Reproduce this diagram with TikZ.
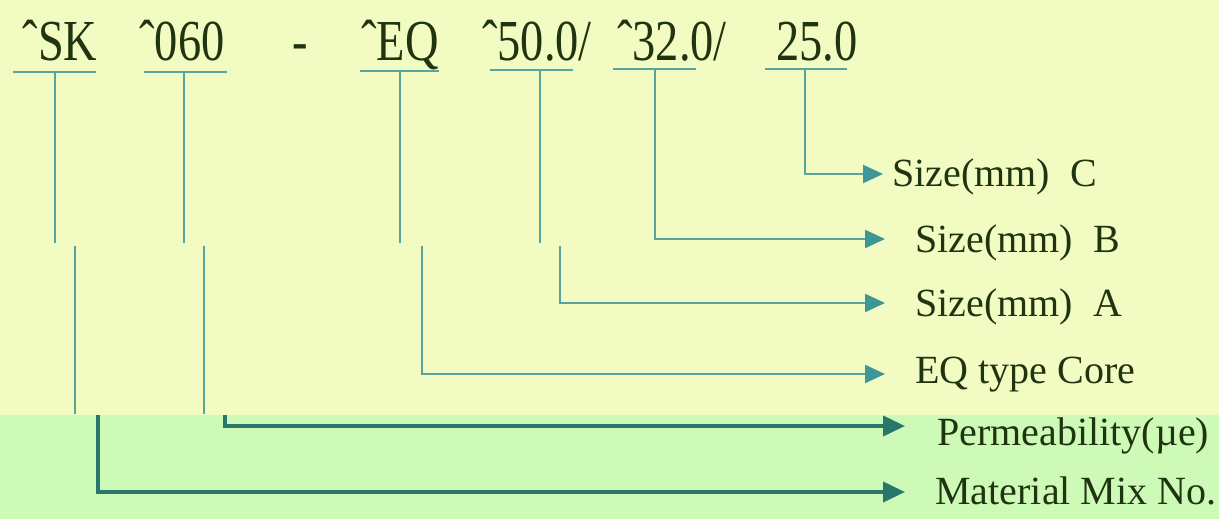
\documentclass[tikz,border=0pt]{standalone}
\usepackage{fontspec}
\setmainfont{Liberation Serif}
\newfontfamily\codefont[FakeStretch=0.8]{Liberation Serif}
\usetikzlibrary{arrows.meta}
\definecolor{bgyellow}{RGB}{242,252,194}
\definecolor{bggreen}{RGB}{205,250,183}
\definecolor{stemteal}{RGB}{88,165,158}
\definecolor{arrowteal}{RGB}{62,150,150}
\definecolor{darkteal}{RGB}{40,118,108}
\definecolor{inkgreen}{RGB}{32,52,16}
\begin{document}
\begin{tikzpicture}[x=0.5pt,y=-0.5pt,
    code/.style={anchor=base,inner sep=0pt,text=inkgreen,font=\codefont\fontsize{29}{29}\selectfont},
    lbl/.style={anchor=west,inner ysep=0pt,inner xsep=15pt,text depth=0pt,text=inkgreen,font=\fontsize{20}{20}\selectfont},
    bar/.style={stemteal,line width=1.1pt},
    pointer/.style={bar,-{Triangle[length=10pt,width=9pt,color=arrowteal]}},
    mainpointer/.style={darkteal,line width=1.9pt,-{Triangle[length=11pt,width=10pt]}}]
  \useasboundingbox (0,0) rectangle (1219,519);
  \fill[bgyellow] (0,0) rectangle (1219,415);
  \fill[bggreen] (0,415) rectangle (1219,519);

  \draw (60,61) node[code] (mix) {ˆSK};
  \draw (182,61) node[code] (perm) {ˆ060};
  \draw (300,61) node[code] (dash) {-};
  \draw (400,61) node[code] (type) {ˆEQ};
  \draw (537,61) node[code] (dima) {ˆ50.0/};
  \draw (672,61) node[code] (dimb) {ˆ32.0/};
  \draw (817,61) node[code] (dimc) {25.0};

  \draw (905,492) node[lbl,text height=1.2em] (mixL) {Material Mix No.};
  \draw (905,426) node[lbl,inner xsep=16pt,text height=1.9em] (permL) {Permeability(µe)};
  \draw (885,374) node[lbl,text height=0.9em] (typeL) {EQ type Core};
  \draw (885,303) node[lbl,text height=1.3em] (dimaL) {Size(mm)\ \ A};
  \draw (885,239) node[lbl,text height=1.3em] (dimbL) {Size(mm)\ \ B};
  \draw (883,174) node[lbl,inner xsep=4.5pt,text height=1.2em] (dimcL) {Size(mm)\ \ C};

  \coordinate (umix) at (55,72);
  \coordinate (uperm) at (184,72);
  \coordinate (utype) at (400,71);
  \coordinate (udima) at (540,70);
  \coordinate (udimb) at (655,69);
  \coordinate (udimc) at (805,69);

  \draw[bar] (13,72) -- (96,72);
  \draw[bar] (144,72) -- (227,72);
  \draw[bar] (360,71) -- (439,71);
  \draw[bar] (490,70) -- (573,70);
  \draw[bar] (613,69) -- (696,69);
  \draw[bar] (765,69) -- (847,69);

  \draw[bar] (umix) -- (55,243);
  \draw[bar] (75,246) -- (75,414);
  \draw[mainpointer] (98,415) |- (mixL.west);
  \draw[bar] (uperm) -- (184,243);
  \draw[bar] (204,246) -- (204,414);
  \draw[mainpointer] (225,415) |- (permL.west);
  \draw[bar] (utype) -- (400,243);
  \draw[pointer] (422,246) |- (typeL.west);
  \draw[bar] (udima) -- (540,243);
  \draw[pointer] (560,246) |- (dimaL.west);
  \draw[pointer] (udimb) |- (dimbL.west);
  \draw[pointer] (udimc) |- (dimcL.west);
\end{tikzpicture}
\end{document}
